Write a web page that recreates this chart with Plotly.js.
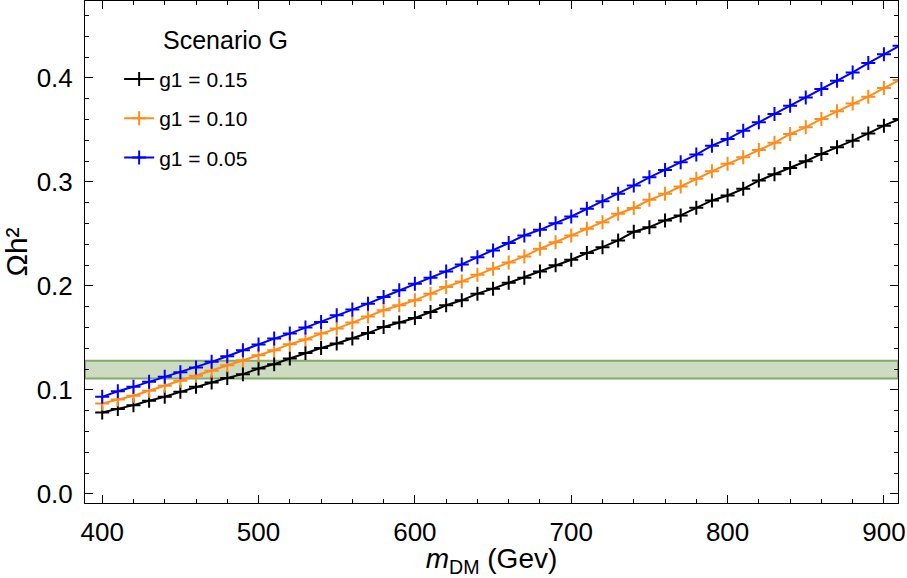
<!DOCTYPE html>
<html>
<head>
<meta charset="utf-8">
<script src="https://cdn.plot.ly/plotly-3.0.1.min.js"></script>
<style>html,body{margin:0;padding:0;background:#fff;}#chart{width:907px;height:578px;}</style>
</head>
<body>
<div id="chart"></div>
<script>
const mDM = [400,410,420,430,440,450,460,470,480,490,500,510,520,530,540,550,560,570,580,590,600,610,620,630,640,650,660,670,680,690,700,710,720,730,740,750,760,770,780,790,800,810,820,830,840,850,860,870,880,890,900,910];

const g1_015 = [0.0784,0.0816,0.0854,0.0896,0.0934,0.0982,0.1030,0.1072,0.1116,0.1152,0.1206,0.1248,0.1302,0.1356,0.1404,0.1446,0.1494,0.1547,0.1606,0.1648,0.1692,0.1750,0.1814,0.1862,0.1926,0.1974,0.2030,0.2080,0.2140,0.2198,0.2252,0.2316,0.2373,0.2438,0.2521,0.2565,0.2630,0.2678,0.2752,0.2822,0.2870,0.2934,0.3013,0.3075,0.3135,0.3199,0.3270,0.3333,0.3397,0.3467,0.3541,0.3606];

const g1_010 = [0.0870,0.0909,0.0944,0.0992,0.1040,0.1088,0.1136,0.1184,0.1238,0.1286,0.1334,0.1382,0.1440,0.1485,0.1542,0.1590,0.1648,0.1706,0.1766,0.1814,0.1862,0.1926,0.1990,0.2044,0.2108,0.2166,0.2225,0.2284,0.2358,0.2421,0.2486,0.2550,0.2613,0.2694,0.2750,0.2828,0.2886,0.2956,0.3030,0.3103,0.3174,0.3237,0.3308,0.3376,0.3462,0.3525,0.3606,0.3679,0.3755,0.3820,0.3903,0.3980];

const g1_005 = [0.0934,0.0988,0.1030,0.1078,0.1126,0.1171,0.1216,0.1270,0.1324,0.1382,0.1437,0.1494,0.1542,0.1600,0.1654,0.1718,0.1773,0.1830,0.1894,0.1958,0.2022,0.2080,0.2140,0.2207,0.2277,0.2342,0.2413,0.2486,0.2540,0.2604,0.2668,0.2742,0.2815,0.2886,0.2965,0.3045,0.3116,0.3189,0.3263,0.3349,0.3413,0.3493,0.3573,0.3654,0.3733,0.3813,0.3893,0.3973,0.4053,0.4143,0.4229,0.4309];

const seriesNames = ["g1 = 0.15","g1 = 0.10","g1 = 0.05"];
const seriesColors = ["#000000","#ff8c1a","#0000ff"];
const bandLow = 0.111, bandHigh = 0.128;

const series = [g1_015, g1_010, g1_005];
const traces = series.map((ys, i) => ({
  x: mDM, y: ys, type: 'scatter', mode: 'lines+markers', name: seriesNames[i],
  legendgroup: 'g' + i,
  line: {color: seriesColors[i], width: 2},
  marker: {symbol: 'cross-thin', size: 10, color: seriesColors[i], line: {color: seriesColors[i], width: 2}},
  cliponaxis: true
}));

const font = "'Liberation Sans', Arial, Helvetica, sans-serif";
const layout = {
  width: 907, height: 578,
  margin: {l: 85, r: 9, t: 1, b: 75},
  paper_bgcolor: '#fff', plot_bgcolor: '#fff',
  font: {family: font, color: '#000'},
  showlegend: true,
  legend: {x: 0.042, y: 0.885, xanchor: 'left', yanchor: 'top', bgcolor: 'rgba(0,0,0,0)',
           font: {size: 21, family: font}, tracegroupgap: 9, itemwidth: 30},
  xaxis: {range: [389, 909], showline: true, linecolor: '#000', linewidth: 1, mirror: 'ticks',
          ticks: 'inside', ticklen: 8, tickcolor: '#000', dtick: 100, tick0: 0,
          minor: {dtick: 20, ticks: 'inside', ticklen: 4, tickcolor: '#000'},
          showgrid: false, zeroline: false, tickfont: {size: 26}, ticklabelstandoff: 6,
          title: {text: '<i>m</i><sub>DM</sub> (Gev)', font: {size: 28}, standoff: 0}},
  yaxis: {range: [-0.0087, 0.474], showline: true, linecolor: '#000', linewidth: 1, mirror: 'ticks',
          ticks: 'inside', ticklen: 8, tickcolor: '#000', dtick: 0.1, tick0: 0, tickformat: '.1f',
          minor: {dtick: 0.02, ticks: 'inside', ticklen: 4, tickcolor: '#000'},
          showgrid: false, zeroline: false, tickfont: {size: 26}, ticklabelstandoff: 6,
          title: {text: 'Ωh²', font: {size: 30}, standoff: 6}},
  shapes: [{type: 'rect', xref: 'paper', x0: 0, x1: 1, yref: 'y', y0: bandLow, y1: bandHigh,
            fillcolor: '#cddcc0', line: {color: '#86a86a', width: 2}, layer: 'below'}],
  annotations: [{text: 'Scenario G', xref: 'paper', yref: 'paper', x: 0.094, y: 0.922,
                 xanchor: 'left', yanchor: 'middle', showarrow: false, font: {size: 25}}]
};
Plotly.newPlot('chart', traces, layout, {displayModeBar: false, staticPlot: true});
</script>
</body>
</html>
